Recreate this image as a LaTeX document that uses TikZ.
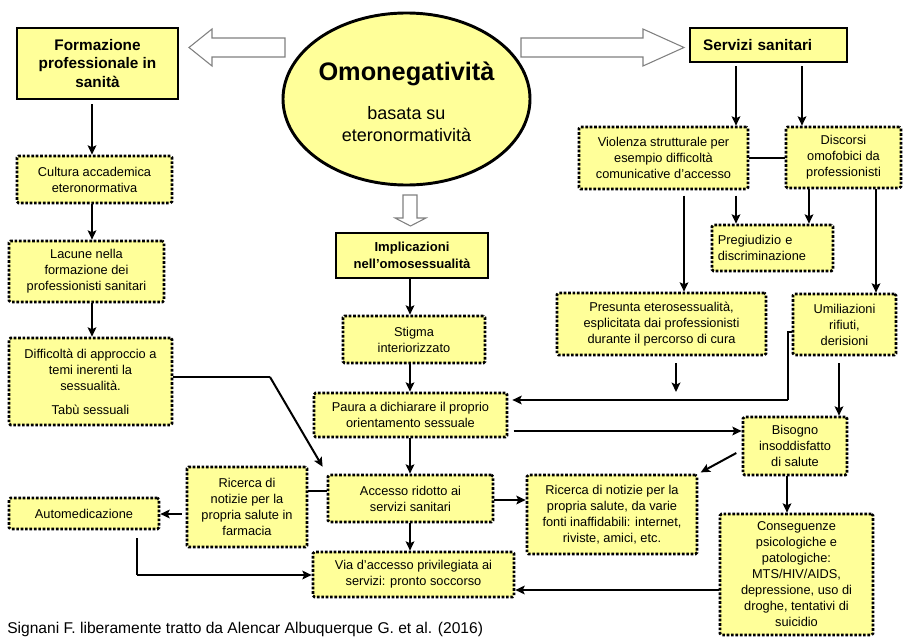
\documentclass[tikz,border=0pt]{standalone}
\usepackage{fontspec}
\setmainfont{Liberation Sans}
\usetikzlibrary{arrows.meta,shapes.geometric}
\definecolor{boxy}{HTML}{FFFF99}
\definecolor{hollowgray}{HTML}{808080}
\tikzset{
 dbox/.style={draw=black, fill=boxy, line width=2pt, dash pattern=on 2pt off 1.3pt, rounded corners=1.2pt, inner sep=0pt, align=center, font=\fontsize{9.6}{12}\selectfont},
 sbox/.style={draw=black, fill=boxy, line width=2.2pt, inner sep=0pt, align=center, font=\bfseries\fontsize{11.5}{14}\selectfont},
 arr/.style={line width=1.5pt, -{Stealth[length=7pt,width=6.5pt,inset=1.5pt]}},
 fine/.style={line width=0.8pt},
 hollowarrow/.style={draw=hollowgray, fill=white, line width=0.8pt},
}
% \bx{name}{x1}{y1}{x2}{y2}{style}{text}  (pixel coordinates)
\newcommand\bx[7]{%
  \pgfmathsetmacro\bxw{(#4-#2)*0.75}%
  \pgfmathsetmacro\bxh{(#5-#3)*0.75}%
  \pgfmathsetmacro\bxcx{(#2+#4)/2}%
  \pgfmathsetmacro\bxcy{(#3+#5)/2}%
  \node[#6, minimum width=\bxw pt, minimum height=\bxh pt] (#1) at (\bxcx,\bxcy) {#7};}
\begin{document}
\begin{tikzpicture}[x=0.75pt,y=-0.75pt]
\useasboundingbox (0,0) rectangle (904,639);

% helper coordinates
\coordinate (xL) at (92,0);
\coordinate (xM) at (410,0);
\coordinate (x736) at (736,0);
\coordinate (x802) at (802,0);
\coordinate (x809) at (809,0);
\coordinate (x684) at (684,0);
\coordinate (x876) at (876,0);
\coordinate (x676) at (676,0);
\coordinate (x788) at (788,0);
\coordinate (x839) at (839,0);
\coordinate (x787) at (787,0);
\coordinate (x137) at (137,0);
\coordinate (y158) at (0,158);
\coordinate (y332) at (0,332);
\coordinate (y377) at (0,377);
\coordinate (y400) at (0,400);
\coordinate (y431) at (0,431);
\coordinate (y453) at (0,453);
\coordinate (y491) at (0,491);
\coordinate (y500) at (0,500);
\coordinate (y514) at (0,514);
\coordinate (y575) at (0,575);
\coordinate (y590) at (0,590);

% hollow arrows
\draw[hollowarrow] (285,38) -- (212,38) -- (212,29) -- (189,47.5) -- (212,66) -- (212,57) -- (285,57) -- cycle;
\draw[hollowarrow] (521,38) -- (643,38) -- (643,29) -- (684,47.5) -- (643,66) -- (643,57) -- (521,57) -- cycle;
\draw[hollowarrow] (403,195) -- (417,195) -- (417,218) -- (426,218) -- (410.5,226) -- (395,218) -- (403,218) -- cycle;

% ellipse
\node[ellipse, draw=black, fill=boxy, line width=2.2pt, minimum width=185.25pt, minimum height=129pt, inner sep=0pt] (ell) at (406.5,99) {};
\node[font=\bfseries\fontsize{19}{23}\selectfont] (ellT) at (406.5,74) {Omonegatività};
\node[font=\fontsize{13.5}{16.5}\selectfont, align=center] (ellS) at (406.5,124) {basata su\\eteronormatività};

% solid boxes
\bx{form}{17}{28}{178}{99}{sbox}{Formazione\\professionale in\\sanità}
\bx{serv}{690}{28}{847}{62}{sbox, align=left, text width=98pt}{Servizi sanitari}
\bx{impl}{336}{233}{488}{278}{sbox, line width=1.6pt, font=\bfseries\fontsize{9.8}{12.5}\selectfont}{Implicazioni\\nell’omosessualità}

% dotted boxes
\bx{cult}{17}{156}{172}{203}{dbox}{Cultura accademica\\eteronormativa}
\bx{lac}{9}{241}{164}{302}{dbox}{Lacune nella\\formazione dei\\professionisti sanitari}
\bx{diff}{9}{338}{172}{425}{dbox}{Difficoltà di approccio a\\temi inerenti la\\sessualità.\\[6pt]Tabù sessuali}
\bx{stig}{343}{316}{485}{363}{dbox}{Stigma\\interiorizzato}
\bx{paura}{314}{393}{507}{437}{dbox}{Paura a dichiarare il proprio\\orientamento sessuale}
\bx{acc}{328}{475}{493}{522}{dbox}{Accesso ridotto ai\\servizi sanitari}
\bx{via}{313}{552}{514}{597}{dbox}{Via d'accesso privilegiata ai\\servizi: pronto soccorso}
\bx{far}{187}{467}{307}{547}{dbox}{Ricerca di\\notizie per la\\propria salute in\\farmacia}
\bx{auto}{9}{498}{159}{529}{dbox}{Automedicazione}
\bx{viol}{579}{127}{748}{189}{dbox}{Violenza strutturale per\\esempio difficoltà\\comunicative d’accesso}
\bx{disc}{786}{127}{901}{188}{dbox}{Discorsi\\omofobici da\\professionisti}
\bx{preg}{712}{225}{833}{271}{dbox, align=left, text width=82pt}{Pregiudizio e\\discriminazione}
\bx{pres}{557}{293}{766}{355}{dbox}{Presunta eterosessualità,\\esplicitata dai professionisti\\durante il percorso di cura}
\bx{umil}{793}{294}{896}{355}{dbox}{Umiliazioni\\rifiuti,\\derisioni}
\bx{bis}{743}{417}{847}{475}{dbox}{Bisogno\\insoddisfatto\\di salute}
\bx{fonti}{527}{475}{697}{554}{dbox}{Ricerca di notizie per la\\propria salute, da varie\\fonti inaffidabili: internet,\\riviste, amici, etc.}
\bx{cons}{720}{514}{873}{635}{dbox}{Conseguenze\\psicologiche e\\patologiche:\\MTS/HIV/AIDS,\\depressione, uso di\\droghe, tentativi di\\suicidio}

% caption
\node[anchor=west, inner sep=0pt, font=\fontsize{11.7}{13}\selectfont] (cap) at (7,629) {Signani F. liberamente tratto da Alencar Albuquerque G. et al. (2016)};

% left column
\draw[arr] ([yshift=-3pt]form.south -| xL) -- (cult.north -| xL);
\draw[arr] (cult.south -| xL) -- (lac.north -| xL);
\draw[arr] (lac.south -| xL) -- (diff.north -| xL);
\coordinate (dk) at (270,377);
\draw[fine] (diff.east |- y377) -- (dk);
\draw[arr, shorten >=6pt] (dk) -- (acc.north west);

% middle column
\draw[arr] (impl.south -| xM) -- (stig.north -| xM);
\draw[arr] (stig.south -| xM) -- (paura.north -| xM);
\draw[arr] (paura.south -| xM) -- (acc.north -| xM);
\draw[arr] (acc.south -| xM) -- (via.north -| xM);
\draw[fine] (acc.west |- y491) -- (far.east |- y491);
\draw[arr] ([xshift=-3pt]far.west |- y514) -- (auto.east |- y514);
\draw[fine] ([yshift=-6pt]auto.south -| x137) -- (x137 |- y575);
\draw[arr] (x137 |- y575) -- (via.west |- y575);
\draw[arr] (acc.east |- y500) -- (fonti.west |- y500);

% right column
\draw[arr] ([yshift=-2pt]serv.south -| x736) -- (viol.north -| x736);
\draw[arr] ([yshift=-2pt]serv.south -| x802) -- (disc.north -| x802);
\draw[fine] (viol.east |- y158) -- (disc.west |- y158);
\draw[arr] ([yshift=-4pt]viol.south -| x736) -- (preg.north -| x736);
\draw[arr] (disc.south -| x809) -- (preg.north -| x809);
\draw[arr] ([yshift=-4pt]viol.south -| x684) -- (pres.north -| x684);
\draw[arr] (disc.south -| x876) -- (umil.north -| x876);
\coordinate (pe) at (676,392);
\draw[arr] ([yshift=-5pt]pres.south -| x676) -- (pe);
\draw[fine] (umil.west |- y332) -- (x788 |- y332) -- (x788 |- y400);
\draw[arr] (x788 |- y400) -- ([xshift=3pt]paura.east |- y400);
\draw[arr] ([yshift=-5pt]umil.south -| x839) -- (bis.north -| x839);
\draw[arr] ([xshift=4pt]paura.east |- y431) -- (bis.west |- y431);
\draw[arr, shorten >=2pt] ([xshift=-4pt]bis.west |- y453) -- (fonti.north east);
\draw[arr] (bis.south -| x787) -- (cons.north -| x787);
\draw[arr] (cons.west |- y590) -- (via.east |- y590);
\end{tikzpicture}
\end{document}
